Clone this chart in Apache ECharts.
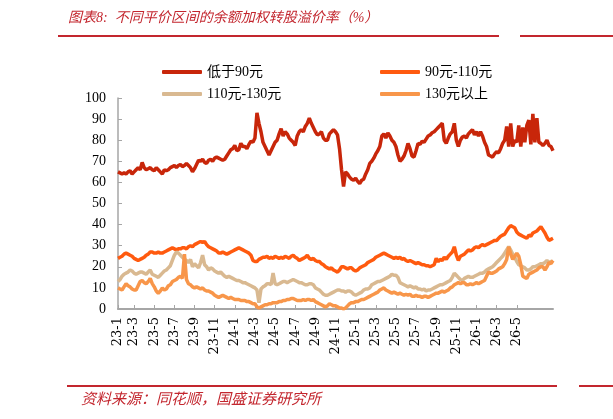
<!DOCTYPE html>
<html>
<head>
<meta charset="utf-8">
<script src="https://cdn.jsdelivr.net/npm/echarts@6/dist/echarts.min.js"></script>
<style>
  html, body { margin: 0; padding: 0; background: #fff; }
  #chart { width: 613px; height: 419px; }
</style>
</head>
<body>
<div id="chart"></div>
<script>
// 横轴标签（每两个月一个）
const monthLabels = ['23-1','23-3','23-5','23-7','23-9','23-11','24-1','24-3','24-5','24-7','24-9','24-11',
  '25-1','25-3','25-5','25-7','25-9','25-11','26-1','26-3','26-5']
const firstGap = 8   // 第一个标签到第二个标签的点数
const labelStep = 10 // 之后每个标签之间的点数

// 低于90元
const low90 = [
  65, 64.5, 64, 64.5, 64, 65, 65.5, 64, 65, 66,
  67, 66, 69.5, 67, 66, 66.5, 67, 66, 65.5, 67,
  66, 65, 64, 66, 65.5, 66, 67, 67.5, 68, 67,
  68, 68.5, 67.5, 68, 69, 68, 67, 65, 66.5, 68.5,
  70.5, 70, 71, 69.5, 69, 70.5, 71, 70, 71.5, 72,
  71.5, 71, 70.5, 71, 72.5, 74, 75.5, 76, 77.5, 75,
  75.5, 78.5, 77, 77, 76, 78, 79.5, 79, 81, 93,
  88, 84, 79, 77, 75, 73, 75, 77, 79, 80,
  83, 85.5, 82, 84, 83, 81, 80, 79, 77.5, 82,
  84, 85, 84, 86.5, 88, 90.5, 88, 86, 84, 82.5,
  83, 84, 81, 80, 80, 83, 84, 85, 84, 82.5,
  76, 66, 58, 65, 64, 62.5, 61.5, 61, 62, 60.5,
  59.5, 61, 61.5, 64, 66, 69, 70, 71.5, 73.5, 75,
  77, 82, 83, 81, 83.5, 82, 80, 79, 77, 73,
  70, 71, 72.5, 75, 78.5, 76, 72.5, 72, 75, 78.5,
  78, 79.5, 79, 80.5, 82, 82.5, 83.5, 84, 85, 86,
  87, 88, 80, 78.5, 81, 83, 84, 88, 80, 77,
  80, 81.5, 82, 81, 83, 84, 85, 82.5, 84, 82,
  84, 82, 79, 77, 73, 72.5, 72, 73.5, 74.5, 74,
  76, 78.5, 80, 86.5, 77, 88, 77, 80, 79, 87,
  77, 86, 79, 87, 89.5, 78, 92.5, 79, 90.5, 79,
  78.5, 77.5, 78.5, 80, 77.5, 77, 75
]
// 90元-110元
const mid90to110 = [
  24, 24.5, 25, 26, 26.5, 26, 25.5, 25, 24, 23.5, 23,
  23.5, 24, 24.5, 25.5, 26, 27, 27, 26.5, 26.5, 27,
  26.5, 26.5, 27, 27.5, 28, 28.5, 29, 28.5, 28, 28.5,
  28.5, 29, 29, 28.5, 29.5, 30, 29.5, 30.5, 31, 31.5,
  32, 31.5, 32, 30.5, 29.5, 29, 28.5, 28, 27.5, 26.5,
  26.5, 27, 26.5, 26, 26.5, 27, 27.5, 28, 28.5, 29,
  28.5, 28, 27.5, 27, 26.5, 25.5, 23, 22.5, 22.5, 23.5,
  24, 24.5, 24.5, 25, 24, 24.5, 24, 25, 24.5, 24,
  24.5, 24, 25, 24.5, 24, 25, 25.5, 24.5, 24, 23,
  23.5, 24, 24.5, 25.5, 24, 23.5, 24, 23, 22.5, 22.5,
  21.5, 21, 20, 19.5, 19, 19.5, 18.5, 18, 17.5, 18.5,
  20, 20, 19.5, 19, 19.5, 19.5, 18.5, 18, 18.5, 19.5,
  20, 20.5, 21, 22, 22.5, 23, 23.5, 24.5, 25, 25.5,
  26, 26.5, 26, 25.5, 25, 24.5, 24, 24.5, 24, 24.5,
  23.5, 24, 23, 22.5, 23, 22.5, 22, 21.5, 22, 21.5,
  21, 21, 20.5, 20.5, 20, 20.5, 21, 24, 22.5, 23.5,
  23, 24.5, 23.5, 25, 26, 27, 29.5, 25.5, 23, 25,
  25.5, 26, 27, 28, 27.5, 28, 29, 29.5, 29, 30,
  30.5, 30, 30.5, 31, 31.5, 32, 32.5, 32.5, 33.5, 34.5,
  35, 35.5, 37, 38.5, 39.5, 39, 38.5, 36.5, 35.5, 35,
  34.5, 34, 33.5, 35, 34.5, 36, 36.5, 37, 38, 39,
  37.5, 36, 34, 32.5, 33, 33.5
]
// 110元-130元
const mid110to130 = [
  13, 14, 15.5, 16.5, 17, 17.5, 18.5, 18, 17, 16.5,
  17, 17.5, 17.5, 17, 16.5, 17.5, 18.5, 16.5, 16, 15.5,
  15, 16, 17, 18, 18.5, 19.5, 20.5, 23, 25.5, 27,
  26.5, 25.5, 24.5, 23.5, 23, 22, 23.5, 20, 21.5, 20.5,
  19.5, 22, 25.5, 21, 20, 18.5, 19.5, 19, 18, 17.5,
  17, 17.5, 16.5, 15.5, 15, 15.5, 15, 14.5, 14, 13.5,
  13.5, 13, 12.5, 12.5, 12, 11.5, 11, 10.5, 10, 9,
  3, 9.5, 10.5, 11, 12, 12, 11.5, 17, 12, 11.5,
  12, 12.5, 13, 13, 12.5, 13, 13.5, 14, 13.5, 13,
  12.5, 12.5, 12, 11.5, 11.5, 12, 12, 11.5, 10, 9.5,
  9, 8, 7, 6.5, 6.5, 7, 7.5, 8, 8.5, 9,
  9, 8.5, 8.5, 8, 8.5, 8.5, 8, 7, 6.5, 7,
  7.5, 8, 9, 9.5, 9.5, 10, 11.5, 12, 12.5, 13,
  13, 13.5, 14, 14.5, 15, 15.5, 16.5, 16, 16, 15,
  12.5, 12, 11.5, 11, 10.5, 11, 10.5, 10, 10.5, 9.5,
  9.5, 9, 9.5, 8.5, 9, 9, 9.5, 10, 10.5, 11,
  11.5, 11.5, 12, 12.5, 13, 13.5, 15, 17, 16, 15,
  14, 13.5, 14.5, 15, 15.5, 15, 15, 15.5, 16, 16.5,
  17, 17, 17.5, 18.5, 19, 19.5, 20, 21, 22, 23,
  24, 25, 26.5, 28, 29.5, 28, 26, 24.5, 22.5, 21,
  20.5, 20, 19.5, 18.5, 18.5, 19, 20, 20, 20.5, 21,
  21.5, 21.5, 22, 23, 22, 22.5, 22.5
]
// 130元以上
const above130 = [
  10, 9.5, 9, 10.5, 12, 11, 10.5, 9.5, 9, 9,
  11, 13, 13.5, 12.5, 12, 13, 14.5, 12, 10.5, 8.5,
  7.5, 8.5, 10, 9, 9.5, 11, 11.5, 13, 13.5, 14,
  15, 15.5, 14.5, 26, 14, 12, 11.5, 10.5, 10, 10.5,
  10, 9.5, 10, 9, 8.5, 8.5, 8, 7.5, 6.5, 6,
  5.5, 6, 6.5, 6, 5.5, 5, 5.5, 5, 4.5, 4.5,
  4.5, 4, 4, 4, 3.5, 3.5, 3, 2.5, 2.5, 1,
  0.5, 1, 1.5, 2, 2, 2.5, 2.5, 3, 3, 3,
  3.5, 3.5, 4, 4, 4.5, 4.5, 5, 5, 4.5, 4,
  4, 4, 4.5, 4, 4.5, 4.5, 4, 4.5, 3.5, 3,
  2.5, 2, 1.5, 1, 1.5, 2.5, 2, 1.5, 1.5, 1,
  0.5, 0.5, 0, 0.5, 1.5, 2.5, 3, 3, 3.5, 3.5,
  4, 4.5, 4.5, 5, 5.5, 6, 6.5, 7, 7.5, 8,
  9, 9.5, 10, 9, 8.5, 8, 7.5, 8, 7.5, 7,
  7.5, 7, 6.5, 7, 6.5, 7, 6, 6, 6.5, 6,
  6, 5.5, 6, 6, 5.5, 6, 6.5, 7, 7.5, 7.5,
  8, 8.5, 8, 8.5, 9, 10, 10.5, 11.5, 12, 12.5,
  12, 12.5, 12.5, 11.5, 11.5, 12, 11.5, 12, 12.5, 12,
  12.5, 13, 13.5, 15.5, 17.5, 17, 17, 17.5, 18, 19,
  19.5, 20, 21.5, 23.5, 29.5, 26, 23.5, 25, 26.5, 25,
  21, 15.5, 15, 14.5, 16.5, 17, 17.5, 18, 18.5, 19.5,
  20, 20, 18.5, 20, 22, 21.5, 23
]

// 类目：只在标签位置放文字，其余留空
const categories = low90.map(() => '')
categories[0] = monthLabels[0]
for (let k = 1; k < monthLabels.length; k++) {
  categories[firstGap + (k - 1) * labelStep] = monthLabels[k]
}
const showLabel = (idx, val) => val !== ''

const serif = "'Liberation Serif', 'Noto Sans CJK SC', serif"
const red = '#C3262E'

const chart = echarts.init(document.getElementById('chart'))
const legendBase = {
  orient: 'vertical', itemGap: 8, padding: 0,
  icon: 'roundRect', itemWidth: 40, itemHeight: 4,
  textStyle: { fontFamily: serif, fontSize: 14, color: '#000' }
}
const option = {
  animation: false,
  color: ['#C8260A', '#FF5A0F', '#D9B991', '#F8964A'],
  grid: { left: 118, right: 60, top: 98, bottom: 110 },
  legend: [
    Object.assign({ left: 162, top: 65, data: ['低于90元', '110元-130元'] }, legendBase),
    Object.assign({ left: 380, top: 65, data: ['90元-110元', '130元以上'] }, legendBase)
  ],
  xAxis: {
    type: 'category',
    boundaryGap: false,
    data: categories,
    axisLine: { lineStyle: { color: '#A6A6A6', width: 2 } },
    axisTick: { inside: true, length: 4, interval: showLabel, lineStyle: { color: '#A6A6A6' } },
    axisLabel: { interval: showLabel, rotate: 90, margin: 8, fontFamily: "'DejaVu Serif', serif", fontSize: 13, color: '#000' }
  },
  yAxis: {
    type: 'value',
    min: 0, max: 100, interval: 10,
    splitLine: { show: false },
    axisLine: { show: true, lineStyle: { color: '#A6A6A6', width: 1.5 } },
    axisTick: { show: true, inside: true, length: 4, lineStyle: { color: '#A6A6A6' } },
    axisLabel: { margin: 12, fontFamily: serif, fontSize: 14, color: '#000' }
  },
  series: [
    { name: '低于90元', type: 'line', data: low90, showSymbol: false, lineStyle: { width: 3.5 } },
    { name: '90元-110元', type: 'line', data: mid90to110, showSymbol: false, lineStyle: { width: 3.5 } },
    { name: '110元-130元', type: 'line', data: mid110to130, showSymbol: false, lineStyle: { width: 3.5 } },
    { name: '130元以上', type: 'line', data: above130, showSymbol: false, lineStyle: { width: 3.5 } }
  ],
  graphic: [
    {
      type: 'text', left: 68, top: 11,
      style: { text: '图表8:  不同平价区间的余额加权转股溢价率（%）', fill: red, font: 'italic 14px ' + serif }
    },
    { type: 'line', shape: { x1: 58, y1: 36, x2: 499, y2: 36 }, style: { stroke: red, lineWidth: 2 } },
    { type: 'line', shape: { x1: 520, y1: 36, x2: 613, y2: 36 }, style: { stroke: red, lineWidth: 2 } },
    { type: 'line', shape: { x1: 67, y1: 386, x2: 557, y2: 386 }, style: { stroke: red, lineWidth: 2 } },
    { type: 'line', shape: { x1: 579, y1: 386, x2: 613, y2: 386 }, style: { stroke: red, lineWidth: 2 } },
    {
      type: 'text', left: 81, top: 393,
      style: { text: '资料来源：同花顺，国盛证券研究所', fill: red, font: 'italic 15px ' + serif }
    }
  ]
}
chart.setOption(option)
</script>
</body>
</html>
